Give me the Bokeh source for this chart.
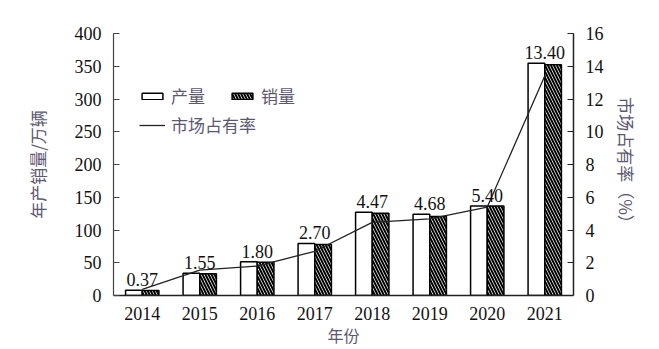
from bokeh.plotting import figure
from bokeh.models import (ColumnDataSource, FactorRange, Range1d, LinearAxis,
                          Legend, LegendItem, SingleIntervalTicker)
from bokeh.transform import dodge
from bokeh.embed import file_html
from bokeh.resources import INLINE

years = ["2014", "2015", "2016", "2017", "2018", "2019", "2020", "2021"]
production = [7.85, 34.05, 51.7, 79.4, 127.0, 124.2, 136.6, 354.5]
sales = [7.48, 33.11, 50.7, 77.7, 125.6, 120.6, 136.7, 352.1]
share = [0.37, 1.55, 1.80, 2.70, 4.47, 4.68, 5.40, 13.40]
share_labels = ["0.37", "1.55", "1.80", "2.70", "4.47", "4.68", "5.40", "13.40"]

NUM_FONT = "Liberation Serif"
CJK_FONT = "Noto Sans CJK SC"
TXT = "#111111"
CJK_COL = "#5c5872"
NUM_SIZE = "18px"
CJK_SIZE = "17px"

src = ColumnDataSource(dict(
    year=years, production=production, sales=sales, share=share,
    label=share_labels, top=[max(a, b) for a, b in zip(production, sales)],
))

p = figure(width=659, height=349, x_range=FactorRange(*years),
           y_range=Range1d(0, 400), output_backend="svg", toolbar_location=None,
           min_border_left=113, min_border_right=86, min_border_top=33,
           min_border_bottom=54)
p.outline_line_color = None
p.grid.grid_line_color = None
p.background_fill_color = "white"
p.border_fill_color = "white"

p.extra_y_ranges = {"share": Range1d(0, 16)}

bw = 0.29
r_prod = p.vbar(x=dodge("year", -bw / 2, range=p.x_range), top="production",
                width=bw, source=src, fill_color="white", line_color="black",
                line_width=1.5)
r_sales = p.vbar(x=dodge("year", bw / 2, range=p.x_range), top="sales",
                 width=bw, source=src, fill_color="white", line_color="black",
                 line_width=1.5, hatch_pattern="\\", hatch_color="black",
                 hatch_scale=6, hatch_weight=2)
r_line = p.line(x="year", y="share", source=src, y_range_name="share",
                line_color="#222222", line_width=1.3)

p.text(x="year", y="top", text="label", source=src, text_align="center",
       text_baseline="bottom", y_offset=-4, text_font_size=NUM_SIZE,
       text_font={"value": NUM_FONT}, text_color=TXT)

# axes styling
xa = p.xaxis[0]
xa.axis_label = "年份"
xa.axis_label_text_font = CJK_FONT
xa.axis_label_text_font_style = "normal"
xa.axis_label_text_font_size = "16px"
xa.axis_label_text_color = CJK_COL
xa.axis_label_standoff = 0
xa.major_tick_line_color = None
xa.minor_tick_line_color = None
xa.major_label_text_font = NUM_FONT
xa.major_label_text_font_size = NUM_SIZE
xa.major_label_text_color = TXT
xa.major_label_standoff = 5
xa.axis_line_color = "#222222"
xa.axis_line_width = 1.5

ya = p.yaxis[0]
ya.ticker = SingleIntervalTicker(interval=50)
ya.axis_label = "年产销量/万辆"
ya.axis_label_text_font = CJK_FONT
ya.axis_label_text_font_style = "normal"
ya.axis_label_text_font_size = CJK_SIZE
ya.axis_label_text_color = CJK_COL
ya.axis_label_standoff = 22
ya.major_tick_in = 6
ya.major_tick_out = 0
ya.minor_tick_line_color = None
ya.major_label_text_font = NUM_FONT
ya.major_label_text_font_size = NUM_SIZE
ya.major_label_text_color = TXT
ya.major_label_standoff = 8
ya.axis_line_color = "#444444"
ya.axis_line_width = 1.2
ya.major_tick_line_color = "#444444"

ra = LinearAxis(y_range_name="share", ticker=SingleIntervalTicker(interval=2))
ra.axis_label = "市场占有率（%）"
ra.axis_label_text_font = CJK_FONT
ra.axis_label_text_font_style = "normal"
ra.axis_label_text_font_size = CJK_SIZE
ra.axis_label_text_color = CJK_COL
ra.axis_label_standoff = 7
ra.major_tick_in = 6
ra.major_tick_out = 0
ra.minor_tick_line_color = None
ra.major_label_text_font = NUM_FONT
ra.major_label_text_font_size = NUM_SIZE
ra.major_label_text_color = TXT
ra.major_label_standoff = 8
ra.axis_line_color = "#222222"
ra.axis_line_width = 1.5
ra.major_tick_line_color = "#222222"
p.add_layout(ra, "right")

def style_legend(lg):
    lg.border_line_alpha = 0
    lg.background_fill_alpha = 0
    lg.padding = 0
    lg.margin = 0
    lg.glyph_width = 26
    lg.glyph_height = 8
    lg.label_standoff = 6
    lg.spacing = 24
    lg.label_text_font = CJK_FONT
    lg.label_text_font_size = CJK_SIZE
    lg.label_text_color = CJK_COL
    lg.label_height = 20

lg1 = Legend(items=[LegendItem(label="产量", renderers=[r_prod]),
                    LegendItem(label="销量", renderers=[r_sales])],
             orientation="horizontal", location=(26, 187))
lg2 = Legend(items=[LegendItem(label="市场占有率", renderers=[r_line])],
             orientation="vertical", location=(26, 158))
style_legend(lg1)
style_legend(lg2)
p.add_layout(lg1, "center")
p.add_layout(lg2, "center")

open("out.html", "w").write(file_html(p, INLINE))
